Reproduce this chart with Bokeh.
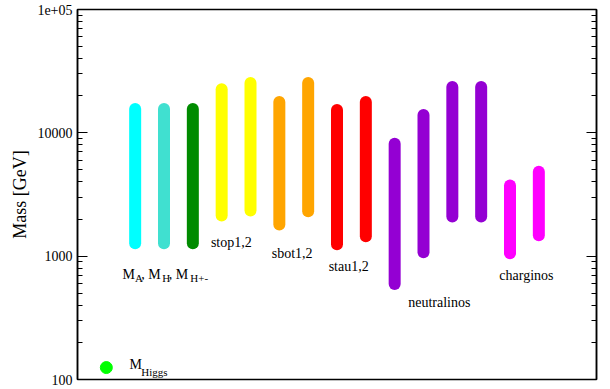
from bokeh.plotting import figure
from bokeh.models import LogAxis, LogTicker, CustomJSTickFormatter, Label, ColumnDataSource
from bokeh.embed import file_html
from bokeh.resources import INLINE

# mass ranges (GeV), one bar per particle
bar_x = [2, 3, 4, 5, 6, 7, 8, 9, 10, 11, 12, 13, 14, 15, 16]
mass_lo = [1270, 1270, 1270, 2140, 2350, 1810, 2310, 1250, 1450, 594, 1077, 2100, 2100, 1057, 1475]
mass_hi = [15600, 15600, 15600, 22600, 25300, 17800, 25300, 15300, 17800, 8150, 13960, 23500, 23500, 3740, 4840]
bar_colors = ["#00FFFF", "#40E0D0", "#008B00", "#FFFF00", "#FFFF00", "#FFA500", "#FFA500",
              "#FF0000", "#FF0000", "#9400D3", "#9400D3", "#9400D3", "#9400D3", "#FF00FF", "#FF00FF"]
higgs_x = [1]
higgs_mass = [125]

FONT = "Liberation Serif"

p = figure(width=600, height=387, y_axis_type="log", x_range=(0, 18), y_range=(100, 1e5),
           output_backend="svg", toolbar_location=None,
           min_border_left=77, min_border_right=4, min_border_top=9, min_border_bottom=8)
p.xaxis.visible = False
p.xgrid.visible = False
p.ygrid.visible = False
p.outline_line_color = "black"
p.outline_line_width = 1.5
p.outline_line_alpha = 1.0
p.background_fill_color = "white"
p.border_fill_color = "white"

fmt = CustomJSTickFormatter(code='return tick >= 99999 ? "1e+05" : tick.toFixed(0);')
ya = p.yaxis[0]
ya.ticker = LogTicker(num_minor_ticks=10)
ya.formatter = fmt
ya.axis_label = "Mass [GeV]"
ya.axis_label_text_font = FONT
ya.axis_label_text_font_style = "normal"
ya.axis_label_text_font_size = "18px"
ya.axis_label_text_color = "black"
ya.axis_label_standoff = 4
ya.major_label_text_font = FONT
ya.major_label_text_font_size = "14px"
ya.major_label_text_color = "black"
ya.major_label_standoff = 5
ya.major_tick_in = 10
ya.major_tick_out = 0
ya.minor_tick_in = 5
ya.minor_tick_out = 0
ya.axis_line_width = 1.5
ya.axis_line_color = "black"
ya.major_tick_line_color = "black"
ya.minor_tick_line_color = "black"
ya.major_tick_line_width = 1.2
ya.minor_tick_line_width = 1.2

ra = LogAxis(ticker=LogTicker(num_minor_ticks=10),
             formatter=CustomJSTickFormatter(code='return "";'),
             major_label_text_font_size="0px", major_label_standoff=0,
             major_tick_in=10, major_tick_out=0, minor_tick_in=5, minor_tick_out=0,
             axis_line_width=1.5, axis_line_color="black",
             major_tick_line_color="black", minor_tick_line_color="black",
             major_tick_line_width=1.2, minor_tick_line_width=1.2)
p.add_layout(ra, "right")

src = ColumnDataSource(dict(x=bar_x, lo=mass_lo, hi=mass_hi, c=bar_colors))
p.segment(x0="x", y0="lo", x1="x", y1="hi", line_color="c", line_width=12,
          line_cap="round", source=src)

p.scatter(x=higgs_x, y=higgs_mass, size=12, color="#00FF00")

def lab(x, y, t, size="14px"):
    p.add_layout(Label(x=x, y=y, text=t, text_font=FONT, text_font_size=size,
                       text_align="left", text_baseline="alphabetic", text_color="black"))

# M_A, M_H, M_H+- label
lab(1.565, 716, "M")
lab(1.99, 665, "A", "11px")
lab(2.21, 716, ", M")
lab(2.943, 665, "H", "11px")
lab(3.164, 716, ", M")
lab(3.913, 665, "H+-", "11px")

lab(4.627, 1297, "stop1,2")
lab(6.737, 1057, "sbot1,2")
lab(8.71, 830, "stau1,2")
lab(11.47, 418, "neutralinos")
lab(14.63, 703, "charginos")

lab(1.803, 132, "M")
lab(2.212, 116, "Higgs", "11px")

open("out.html", "w").write(file_html(p, INLINE))
